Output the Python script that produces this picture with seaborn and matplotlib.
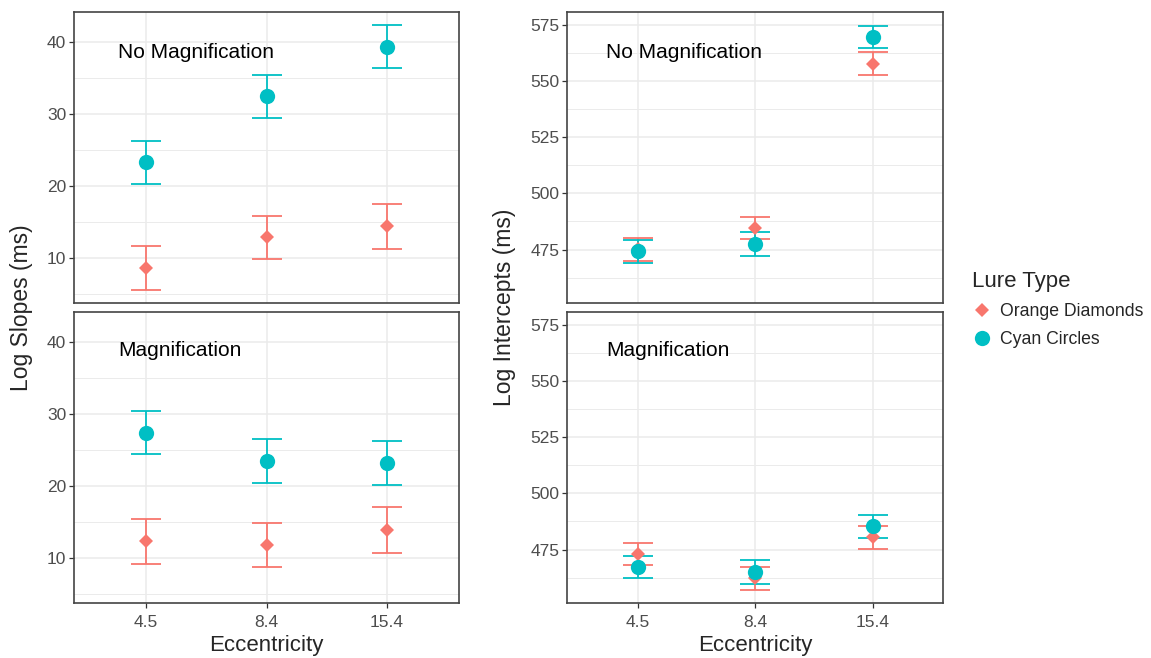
import numpy as np
import pandas as pd
import matplotlib
matplotlib.use("Agg")
import matplotlib.pyplot as plt
import seaborn as sns
from matplotlib.lines import Line2D
from matplotlib.ticker import MultipleLocator

# ---------------- data ----------------
eccentricity = ["4.5", "8.4", "15.4"]
lure_types = ["Orange Diamonds", "Cyan Circles"]
conditions = ["No Magnification", "Magnification"]

slope_nomag_orange = [8.6, 12.9, 14.4]
slope_nomag_orange_err = [3.1, 3.0, 3.1]
slope_nomag_cyan = [23.3, 32.5, 39.4]
slope_nomag_cyan_err = [3.0, 3.0, 3.05]
slope_mag_orange = [12.3, 11.8, 13.9]
slope_mag_orange_err = [3.1, 3.1, 3.15]
slope_mag_cyan = [27.4, 23.5, 23.2]
slope_mag_cyan_err = [3.0, 3.1, 3.0]

icpt_nomag_orange = [475.2, 484.7, 557.8]
icpt_nomag_orange_err = [5.1, 4.8, 5.0]
icpt_nomag_cyan = [474.2, 477.5, 569.7]
icpt_nomag_cyan_err = [5.2, 5.2, 5.05]
icpt_mag_orange = [473.0, 462.2, 480.5]
icpt_mag_orange_err = [5.0, 5.2, 5.05]
icpt_mag_cyan = [467.3, 465.0, 485.4]
icpt_mag_cyan_err = [5.05, 5.2, 5.15]

rows = []
table = {
    ("slope", "No Magnification", "Orange Diamonds"): (slope_nomag_orange, slope_nomag_orange_err),
    ("slope", "No Magnification", "Cyan Circles"): (slope_nomag_cyan, slope_nomag_cyan_err),
    ("slope", "Magnification", "Orange Diamonds"): (slope_mag_orange, slope_mag_orange_err),
    ("slope", "Magnification", "Cyan Circles"): (slope_mag_cyan, slope_mag_cyan_err),
    ("icpt", "No Magnification", "Orange Diamonds"): (icpt_nomag_orange, icpt_nomag_orange_err),
    ("icpt", "No Magnification", "Cyan Circles"): (icpt_nomag_cyan, icpt_nomag_cyan_err),
    ("icpt", "Magnification", "Orange Diamonds"): (icpt_mag_orange, icpt_mag_orange_err),
    ("icpt", "Magnification", "Cyan Circles"): (icpt_mag_cyan, icpt_mag_cyan_err),
}
for (meas, cond, lure), (vals, errs) in table.items():
    for e, v, s in zip(eccentricity, vals, errs):
        rows.append(dict(measure=meas, condition=cond, lure=lure, ecc=e, value=v, err=s))
df = pd.DataFrame(rows)

palette = {"Orange Diamonds": "#F8766D", "Cyan Circles": "#00BFC4"}
marker_map = {"Orange Diamonds": "D", "Cyan Circles": "o"}

# ---------------- style ----------------
sns.set_style("white")
plt.rcParams["font.family"] = ["Liberation Sans", "DejaVu Sans"]

W, H = 1151, 658
fig = plt.figure(figsize=(W / 100, H / 100), dpi=100)


def px_axes(x0, y0, x1, y1):
    return fig.add_axes([x0 / W, (H - y1) / H, (x1 - x0) / W, (y1 - y0) / H])


panels = {
    ("slope", "No Magnification"): px_axes(74, 12, 459, 303),
    ("slope", "Magnification"): px_axes(74, 312, 459, 603),
    ("icpt", "No Magnification"): px_axes(567, 12, 943, 303),
    ("icpt", "Magnification"): px_axes(567, 312, 943, 603),
}
ylims = {"slope": (3.75, 44.2), "icpt": (451.2, 580.8)}
majors = {"slope": 10, "icpt": 25}
text_x = {"slope": 0.114, "icpt": 0.104}

for (meas, cond), ax in panels.items():
    sub = df[(df.measure == meas) & (df.condition == cond)]
    xpos = {e: i for i, e in enumerate(eccentricity)}
    for lure in lure_types:
        s = sub[sub.lure == lure]
        ax.errorbar(s.ecc.map(xpos), s.value, yerr=s.err, fmt="none",
                    ecolor=palette[lure], elinewidth=1.3, capsize=11,
                    capthick=1.3, zorder=3)
    n_before = len(ax.lines)
    sns.pointplot(data=sub, x="ecc", y="value", hue="lure", order=eccentricity,
                  hue_order=lure_types, palette=palette,
                  markers=[marker_map[l] for l in lure_types],
                  linestyles=["none", "none"], errorbar=None, dodge=False,
                  legend=False, ax=ax)
    for ln in ax.lines[n_before:]:
        mk = ln.get_marker()
        if mk == "D":
            ln.set_markersize(7.3)
            ln.set_zorder(4)
            ln.set_markeredgewidth(0)
        elif mk == "o":
            ln.set_markersize(11)
            ln.set_zorder(5)
            ln.set_markeredgewidth(0)
    ax.set_xlim(-0.6, 2.6)
    ax.set_ylim(*ylims[meas])
    ax.yaxis.set_major_locator(MultipleLocator(majors[meas]))
    ax.yaxis.set_minor_locator(MultipleLocator(majors[meas] / 2))
    ax.set_axisbelow(True)
    ax.grid(which="major", color="#EBEBEB", lw=1.1)
    ax.grid(which="minor", axis="y", color="#EBEBEB", lw=0.7)
    ax.set_xlabel("")
    ax.set_ylabel("")
    for sp in ax.spines.values():
        sp.set_color("#444444")
        sp.set_linewidth(1.2)
    ax.tick_params(axis="both", which="major", length=3.5, width=0.9,
                   color="#333333", labelcolor="#4D4D4D", labelsize=12.5, pad=2,
                   left=True, bottom=True)
    ax.tick_params(axis="x", which="major", pad=5)
    ax.tick_params(which="minor", length=0)
    if cond == "No Magnification":
        ax.tick_params(axis="x", bottom=False, labelbottom=False)
    ax.text(text_x[meas], 0.862 if cond == "No Magnification" else 0.869, cond,
            transform=ax.transAxes, fontsize=15, ha="left", va="center",
            color="black")

fig.text(22 / W, 1 - 307.5 / H, "Log Slopes (ms)", rotation=90, fontsize=16.5,
         ha="center", va="center")
fig.text(505 / W, 1 - 307.5 / H, "Log Intercepts (ms)", rotation=90, fontsize=16.5,
         ha="center", va="center")
fig.text(266 / W, 1 - 646 / H, "Eccentricity", fontsize=16, ha="center", va="center")
fig.text(755 / W, 1 - 646 / H, "Eccentricity", fontsize=16, ha="center", va="center")

handles = [
    Line2D([], [], linestyle="none", marker="D", markersize=7.3,
           markerfacecolor=palette["Orange Diamonds"], markeredgewidth=0),
    Line2D([], [], linestyle="none", marker="o", markersize=11,
           markerfacecolor=palette["Cyan Circles"], markeredgewidth=0),
]
leg = fig.legend(handles, lure_types, title="Lure Type", loc="upper left",
                 bbox_to_anchor=(963 / W, 1 - 262 / H), frameon=False,
                 fontsize=12.7, title_fontsize=16, handlelength=1.2,
                 handletextpad=0.4, borderpad=0, labelspacing=0.62,
                 alignment="left")

fig.savefig("out.png", dpi=100)
